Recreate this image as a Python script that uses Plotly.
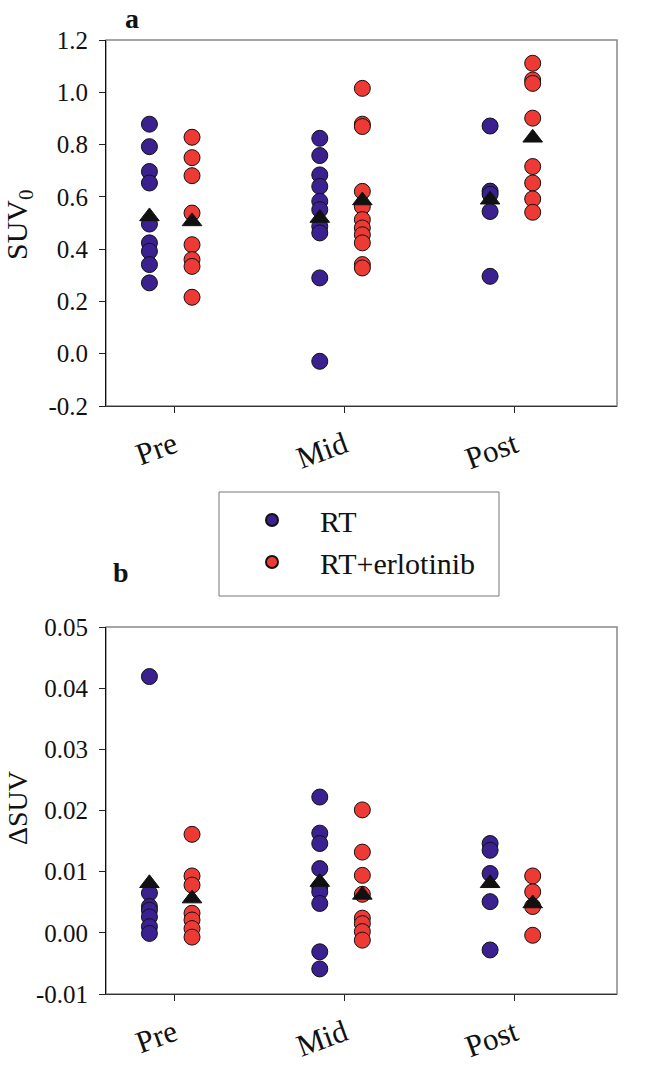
import plotly.graph_objects as go

# ---------------- data ----------------
categories = ["Pre", "Mid", "Post"]

suv0_rt_pre = [0.878, 0.792, 0.697, 0.653, 0.496, 0.424, 0.392, 0.341, 0.271]
suv0_rt_mid = [0.824, 0.758, 0.684, 0.640, 0.583, 0.551, 0.487, 0.462, 0.290, -0.029]
suv0_rt_post = [0.871, 0.622, 0.610, 0.544, 0.296]
suv0_erl_pre = [0.828, 0.750, 0.681, 0.538, 0.417, 0.360, 0.334, 0.216]
suv0_erl_mid = [1.015, 0.878, 0.869, 0.621, 0.563, 0.513, 0.481, 0.455, 0.424, 0.341, 0.328]
suv0_erl_post = [1.111, 1.047, 1.034, 0.901, 0.716, 0.653, 0.592, 0.541]
suv0_rt_mean = [0.525, 0.519, 0.589]
suv0_erl_mean = [0.506, 0.586, 0.826]

dsuv_rt_pre = [0.0419, 0.0065, 0.0043, 0.0037, 0.0026, 0.0010, -0.0001]
dsuv_rt_mid = [0.0222, 0.0163, 0.0146, 0.0105, 0.0075, 0.0067, 0.0048, -0.0031, -0.0059]
dsuv_rt_post = [0.0146, 0.0135, 0.0097, 0.0051, -0.0028]
dsuv_erl_pre = [0.0161, 0.0093, 0.0078, 0.0032, 0.0021, 0.0007, -0.0007]
dsuv_erl_mid = [0.0201, 0.0132, 0.0094, 0.0063, 0.0024, 0.0015, 0.0002, -0.0012]
dsuv_erl_post = [0.0093, 0.0067, 0.0043, -0.0004]
dsuv_rt_mean = [0.0081, 0.0083, 0.0081]
dsuv_erl_mean = [0.0056, 0.0062, 0.0048]

# ---------------- style ----------------
RT_COLOR = "#3b2190"
ERL_COLOR = "#ee3a35"
FONT = "Liberation Serif"
OFF_RT, OFF_ERL = -0.145, 0.105
XR = [0.60, 3.60]
W, H = 664, 1066


def sx(x):
    return x / W


def sy(y):
    return 1 - y / H


fig = go.Figure()


def add_group(vals_by_cat, off, color, name, yaxis, showlegend):
    xs, ys = [], []
    for i, vals in enumerate(vals_by_cat):
        xs += [i + 1 + off] * len(vals)
        ys += vals
    fig.add_trace(go.Scatter(
        x=xs, y=ys, mode="markers", name=name, showlegend=showlegend,
        xaxis="x" if yaxis == "y" else "x2", yaxis=yaxis,
        marker=dict(size=16, color=color, line=dict(color="#111", width=1)),
    ))


def add_means(means, off, yaxis):
    fig.add_trace(go.Scatter(
        x=[i + 1 + off for i in range(len(means))], y=means, mode="markers",
        showlegend=False, xaxis="x" if yaxis == "y" else "x2", yaxis=yaxis,
        marker=dict(symbol="triangle-up", size=17, color="#111",
                    line=dict(color="#111", width=1)),
    ))


add_group([suv0_rt_pre, suv0_rt_mid, suv0_rt_post], OFF_RT, RT_COLOR, "RT", "y", True)
add_group([suv0_erl_pre, suv0_erl_mid, suv0_erl_post], OFF_ERL, ERL_COLOR, "RT+erlotinib", "y", True)
add_means(suv0_rt_mean, OFF_RT, "y")
add_means(suv0_erl_mean, OFF_ERL, "y")
add_group([dsuv_rt_pre, dsuv_rt_mid, dsuv_rt_post], OFF_RT, RT_COLOR, "RT", "y2", False)
add_group([dsuv_erl_pre, dsuv_erl_mid, dsuv_erl_post], OFF_ERL, ERL_COLOR, "RT+erlotinib", "y2", False)
add_means(dsuv_rt_mean, OFF_RT, "y2")
add_means(dsuv_erl_mean, OFF_ERL, "y2")

xdom = [sx(106), sx(617)]
xcommon = dict(range=XR, domain=xdom, tickvals=[1, 2, 3], ticktext=categories,
               tickangle=-20, ticks="outside", ticklen=6, tickcolor="#222",
               showline=True, linecolor="#333", linewidth=1, showgrid=False,
               zeroline=False, ticklabelstandoff=2, automargin=False,
               tickfont=dict(family=FONT, size=31, color="#111"))
ycommon = dict(ticks="outside", ticklen=6, tickcolor="#222", showline=True,
               linecolor="#111", linewidth=1, showgrid=False, zeroline=False,
               ticklabelstandoff=6, automargin=False,
               tickfont=dict(family=FONT, size=25, color="#111"))

fig.update_layout(
    width=W, height=H, margin=dict(l=0, r=0, t=0, b=0, autoexpand=False),
    paper_bgcolor="white", plot_bgcolor="white",
    xaxis=dict(anchor="y", **xcommon),
    yaxis=dict(domain=[sy(406), sy(40)], range=[-0.2, 1.2],
               tickvals=[-0.2, 0, 0.2, 0.4, 0.6, 0.8, 1.0, 1.2],
               ticktext=["-0.2", "0.0", "0.2", "0.4", "0.6", "0.8", "1.0", "1.2"],
               anchor="x", **ycommon),
    xaxis2=dict(anchor="y2", **xcommon),
    yaxis2=dict(domain=[sy(994), sy(627)], range=[-0.01, 0.05],
                tickvals=[-0.01, 0, 0.01, 0.02, 0.03, 0.04, 0.05],
                ticktext=["-0.01", "0.00", "0.01", "0.02", "0.03", "0.04", "0.05"],
                anchor="x2", **ycommon),
    legend=dict(x=sx(224), y=sy(494), xanchor="left", yanchor="top",
                bgcolor="rgba(0,0,0,0)", borderwidth=0,
                font=dict(family=FONT, size=30, color="#111"),
                itemsizing="constant", itemwidth=86, tracegroupgap=0),
    showlegend=True,
)

# frame (top/right gray)
for yd in ([sy(406), sy(40)], [sy(994), sy(627)]):
    fig.add_shape(type="rect", xref="paper", yref="paper", x0=xdom[0], x1=xdom[1],
                  y0=yd[0], y1=yd[1], line=dict(color="#888", width=1.5), layer="below")
# legend box
fig.add_shape(type="rect", xref="paper", yref="paper", x0=sx(219), x1=sx(499),
              y0=sy(596), y1=sy(492), line=dict(color="#777", width=1))

# axis titles
fig.add_annotation(x=sx(19), y=sy(225), xref="paper", yref="paper", text="SUV<sub>0</sub>",
                   textangle=-90, showarrow=False, xanchor="center", yanchor="middle",
                   font=dict(family=FONT, size=30, color="#111"))
fig.add_annotation(x=sx(17), y=sy(808), xref="paper", yref="paper", text="ΔSUV",
                   textangle=-90, showarrow=False, xanchor="center", yanchor="middle",
                   font=dict(family=FONT, size=28, color="#111"))

# panel letters
fig.add_annotation(x=sx(132), y=sy(18), xref="paper", yref="paper", text="<b>a</b>",
                   showarrow=False, xanchor="center", yanchor="middle",
                   font=dict(family=FONT, size=28, color="#111"))
fig.add_annotation(x=sx(121), y=sy(572), xref="paper", yref="paper", text="<b>b</b>",
                   showarrow=False, xanchor="center", yanchor="middle",
                   font=dict(family=FONT, size=28, color="#111"))

fig.write_html("out.html", config={"displayModeBar": False},
               post_script="document.body.style.margin='0';")
